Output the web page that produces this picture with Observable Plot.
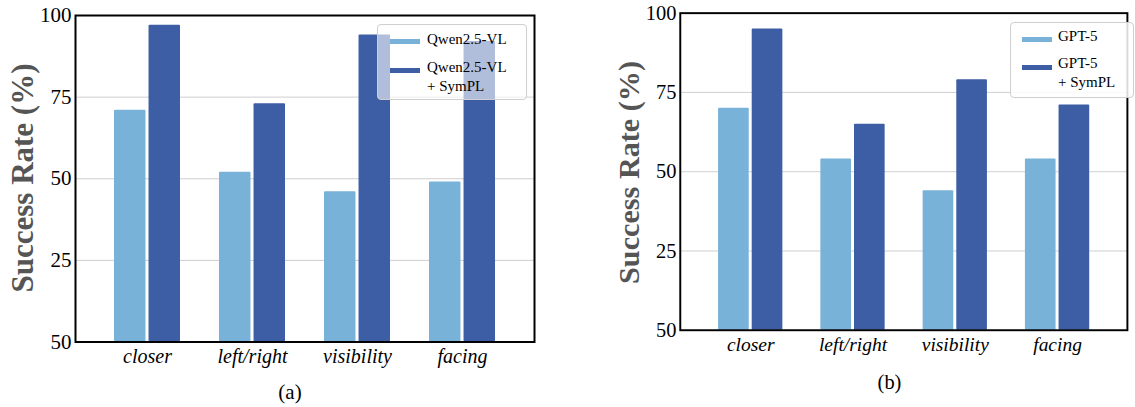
<!DOCTYPE html>
<html><head><meta charset="utf-8">
<script src="https://cdn.jsdelivr.net/npm/d3@7"></script>
<script src="https://cdn.jsdelivr.net/npm/@observablehq/plot@0.6"></script>
<style>
html,body{margin:0;padding:0;width:1135px;height:407px;overflow:hidden;background:#fff;}
#wrap{position:relative;width:1135px;height:407px;font-family:"Liberation Serif","Times New Roman",serif;color:#000;}
#wrap svg, #wrap svg text, #wrap svg g{font-family:"Liberation Serif","Times New Roman",serif !important;}
.panel{position:absolute;top:0;}
.legend{position:absolute;box-sizing:border-box;border:1px solid #cfcfcf;border-radius:4px;}
.legend .h{position:absolute;width:30px;height:5px;}
.legend .t{position:absolute;font-size:15px;line-height:19px;white-space:pre;font-family:"Liberation Serif",serif;}
</style></head>
<body><div id="wrap"></div>
<script>
const categories = ["closer", "left/right", "visibility", "facing"];
const qwenBase = [71, 52, 46, 49];
const qwenSymPL = [97, 73, 94, 92];
const gptBase = [70, 54, 44, 54];
const gptSymPL = [95, 65, 79, 71];
const yTicks = [0, 25, 50, 75, 100];
const yTickLabels = ["50", "25", "50", "75", "100"];
const gridTicks = [25, 50, 75];
const seriesA = ["Qwen2.5-VL", "Qwen2.5-VL\n+ SymPL"];
const seriesB = ["GPT-5", "GPT-5\n+ SymPL"];
const colors = ["#79B2D8", "#3D5EA5"];
const yTitle = "Success Rate (%)";
const captions = ["(a)", "(b)"];

const wrap = document.getElementById("wrap");
const serif = "Liberation Serif, Times New Roman, serif";

function makePanel(o) {
  const rows = categories.flatMap((c, i) => [
    {cat: c, series: o.names[0], v: o.base[i]},
    {cat: c, series: o.names[1], v: o.sym[i]}
  ]);
  const W = o.width - o.ml - o.mr;
  const pi = 0.369, po = 0.36, gap = 2.5;
  const step = W / (categories.length - pi + 2 * po);
  const bw = step * (1 - pi);
  const inset = (bw + gap) / 2;
  const plot = Plot.plot({
    width: o.width,
    height: 407,
    marginLeft: o.ml, marginRight: o.mr, marginTop: o.mt, marginBottom: 407 - o.fb,
    style: {fontFamily: serif, color: "#000", background: "transparent", overflow: "visible"},
    x: {domain: categories, paddingInner: pi, paddingOuter: po, label: null},
    y: {domain: [0, 100], label: null},
    color: {domain: o.names, range: colors},
    marks: [
      Plot.ruleY(gridTicks, {stroke: "#cfcfcf", strokeWidth: 1}),
      Plot.barY(rows.filter(d => d.series === o.names[0]), {x: "cat", y: "v", fill: "series", insetRight: inset, rx: 1}),
      Plot.barY(rows.filter(d => d.series === o.names[1]), {x: "cat", y: "v", fill: "series", insetLeft: inset, rx: 1}),
      Plot.frame({stroke: "#000", strokeWidth: 2}),
      Plot.axisY(yTicks, {tickSize: 0, tickPadding: 4, fontSize: 21, fontFamily: serif, tickFormat: d => yTickLabels[yTicks.indexOf(d)], label: null}),
      Plot.axisX({tickSize: 0, tickPadding: 7, fontSize: 20, fontFamily: serif, fontStyle: "italic", label: null})
    ]
  });
  const svg = d3.select(plot);
  svg.append("text")
    .attr("transform", `translate(${o.titleX},${o.titleY}) rotate(-90)`)
    .attr("text-anchor", "middle")
    .attr("font-family", serif)
    .attr("font-weight", "bold")
    .attr("font-size", 31)
    .attr("fill", "#555")
    .text(yTitle);
  svg.append("text")
    .attr("x", o.capX).attr("y", 399)
    .attr("text-anchor", "middle")
    .attr("font-family", serif)
    .attr("font-size", 21)
    .attr("fill", "#000")
    .text(o.caption);
  const div = document.createElement("div");
  div.className = "panel";
  div.style.left = o.left + "px";
  div.appendChild(plot);
  wrap.appendChild(div);

  const lg = document.createElement("div");
  lg.className = "legend";
  Object.assign(lg.style, {left: o.lg.x + "px", top: o.lg.y + "px", width: o.lg.w + "px", height: o.lg.h + "px", background: o.lg.bg});
  o.names.forEach((n, i) => {
    const h = document.createElement("div");
    h.className = "h";
    h.style.left = o.lg.hx + "px";
    h.style.top = o.lg.hy[i] + "px";
    h.style.background = colors[i];
    lg.appendChild(h);
    const t = document.createElement("div");
    t.className = "t";
    t.style.left = o.lg.tx + "px";
    t.style.top = o.lg.ty[i] + "px";
    t.textContent = n;
    lg.appendChild(t);
  });
  wrap.appendChild(lg);
}

makePanel({
  names: seriesA, base: qwenBase, sym: qwenSymPL, caption: captions[0],
  left: 0, width: 545, ml: 75, mr: 11, mt: 15, fb: 341.5,
  titleX: 33, titleY: 178, capX: 290,
  lg: {x: 377, y: 24, w: 150, h: 76, bg: "rgba(255,255,255,0.6)", hx: 12, hy: [14, 43], tx: 49, ty: [5, 32.5]}
});
makePanel({
  names: seriesB, base: gptBase, sym: gptSymPL, caption: captions[1],
  left: 570, width: 580, ml: 112.7, mr: 8.3, mt: 13, fb: 338.5,
  titleX: 641 - 570, titleY: 177, capX: 898 - 570,
  lg: {x: 1010, y: 22, w: 124, h: 76, bg: "rgba(255,255,255,0.85)", hx: 11, hy: [13.5, 42], tx: 47, ty: [3.5, 31]}
});
</script>
</body></html>
